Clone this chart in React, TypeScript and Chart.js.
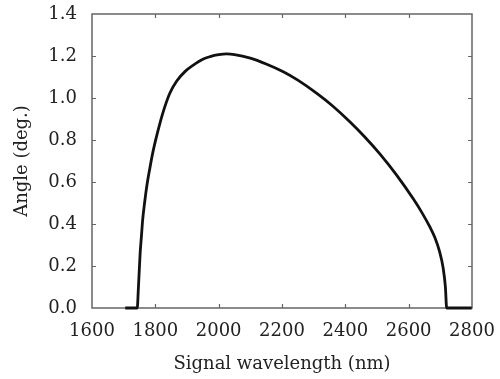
import { useEffect, useRef } from "react";
import { Chart, registerables } from "chart.js";

Chart.register(...registerables);

// Signal wavelength (nm) and the corresponding angle (deg.)
const wavelength = [
  1705, 1743, 1746, 1749, 1752, 1756, 1760, 1766, 1773, 1782, 1792, 1806, 1822,
  1845, 1867, 1895, 1920, 1950, 1973, 2000, 2025, 2050, 2100, 2150, 2204, 2250,
  2310, 2360, 2415, 2460, 2509, 2562, 2615, 2640, 2667, 2683, 2697, 2709, 2716,
  2720, 2799,
];
const angle = [
  0, 0, 0.08, 0.17, 0.26, 0.34, 0.42, 0.5, 0.58, 0.66, 0.74, 0.83, 0.92,
  1.02, 1.08, 1.128, 1.157, 1.185, 1.197, 1.206, 1.21, 1.207, 1.19, 1.162,
  1.125, 1.085, 1.022, 0.962, 0.886, 0.817, 0.734, 0.633, 0.519, 0.459, 0.386,
  0.335, 0.272, 0.19, 0.1, 0, 0,
];

const xMin = 1600;
const xMax = 2800;
const xStep = 200;
const yMin = 0;
const yMax = 1.4;
const yStep = 0.2;

const xTitle = "Signal wavelength (nm)";
const yTitle = "Angle (deg.)";

const FONT = "'DejaVu Serif', 'Liberation Serif', serif";
const TEXT = "#222";

// Frame around the plot with short tick marks pointing inward on all four sides.
const frameTicks = {
  id: "frameTicks",
  beforeDatasetsDraw(chart: any) {
    const { ctx, chartArea, scales } = chart;
    const { left, right, top, bottom } = chartArea;
    const xs = scales.x;
    const ys = scales.y;
    const len = 4;
    ctx.save();
    ctx.strokeStyle = "#666";
    ctx.lineWidth = 1.5;
    ctx.strokeRect(left, top, right - left, bottom - top);
    ctx.lineWidth = 1.2;
    ctx.beginPath();
    xs.ticks.forEach((t: any) => {
      const px = Math.round(xs.getPixelForValue(t.value)) + 0.5;
      if (px <= left + 2 || px >= right - 2) return;
      ctx.moveTo(px, bottom);
      ctx.lineTo(px, bottom - len);
      ctx.moveTo(px, top);
      ctx.lineTo(px, top + len);
    });
    ys.ticks.forEach((t: any) => {
      const py = Math.round(ys.getPixelForValue(t.value)) + 0.5;
      if (py <= top + 2 || py >= bottom - 2) return;
      ctx.moveTo(left, py);
      ctx.lineTo(left + len, py);
      ctx.moveTo(right, py);
      ctx.lineTo(right - len, py);
    });
    ctx.stroke();
    ctx.restore();
  },
};

const noScalePadding = (scale: any) => {
  scale.paddingTop = 0;
  scale.paddingBottom = 0;
  scale.paddingLeft = 0;
  scale.paddingRight = 0;
};

export default function App() {
  const canvasRef = useRef<HTMLCanvasElement | null>(null);

  useEffect(() => {
    if (!canvasRef.current) return;
    const points = wavelength.map((w, i) => ({ x: w, y: angle[i] }));
    const chart = new Chart(canvasRef.current, {
      type: "line",
      data: {
        datasets: [
          {
            data: points,
            borderColor: "#111",
            borderWidth: 2.8,
            pointRadius: 0,
            fill: false,
            cubicInterpolationMode: "monotone",
            clip: false as any,
          },
        ],
      },
      options: {
        animation: false,
        responsive: true,
        maintainAspectRatio: false,
        layout: { padding: { top: 14, right: 28, left: 0, bottom: 0 } },
        plugins: {
          legend: { display: false },
          tooltip: { enabled: false },
        },
        scales: {
          x: {
            type: "linear",
            min: xMin,
            max: xMax,
            border: { display: false },
            grid: { display: false, drawTicks: false },
            ticks: {
              stepSize: xStep,
              padding: 13,
              color: TEXT,
              font: { family: FONT, size: 18 },
              maxRotation: 0,
              callback: (v: any) => String(v),
            },
            title: {
              display: true,
              text: xTitle,
              color: TEXT,
              font: { family: FONT, size: 18 },
              padding: { top: 0, bottom: 4 },
            },
            afterFit: (scale: any) => {
              scale.height = 71;
              noScalePadding(scale);
            },
          },
          y: {
            type: "linear",
            min: yMin,
            max: yMax,
            border: { display: false },
            grid: { display: false, drawTicks: false },
            ticks: {
              stepSize: yStep,
              padding: 15,
              color: TEXT,
              font: { family: FONT, size: 18 },
              callback: (v: any) => Number(v).toFixed(1),
            },
            title: {
              display: true,
              text: yTitle,
              color: TEXT,
              font: { family: FONT, size: 18 },
              padding: { top: 12, bottom: 0 },
            },
            afterFit: (scale: any) => {
              scale.width = 92;
              noScalePadding(scale);
            },
          },
        },
      },
      plugins: [frameTicks],
    });
    return () => chart.destroy();
  }, []);

  return (
    <div
      style={{
        position: "absolute",
        left: 0,
        top: 0,
        width: 500,
        height: 379,
        background: "#fff",
      }}
    >
      <canvas ref={canvasRef} />
    </div>
  );
}
